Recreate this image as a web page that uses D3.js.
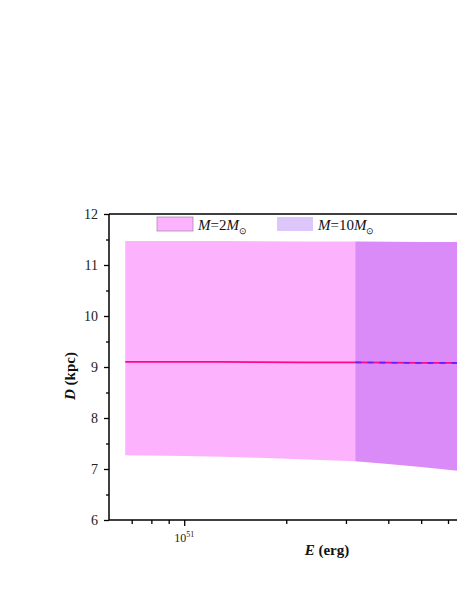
<!DOCTYPE html>
<html><head><meta charset="utf-8">
<script src="https://cdn.jsdelivr.net/npm/d3@7"></script>
<style>body{margin:0;background:#fff}svg{display:block}svg text{font-family:'Liberation Serif','Times New Roman',serif !important}</style>
</head><body>
<script>
// ---- data ----
const energyM2 = [0.67e51, 0.8e51, 1.0e51, 1.3e51, 1.66e51, 2.2e51, 3.2e51, 4.0e51, 5.0e51, 6.3e51, 7.0e51];
const lowerM2  = [7.27, 7.265, 7.255, 7.24, 7.22, 7.19, 7.15, 7.10, 7.04, 6.97, 6.93];
const upperM2  = [11.47, 11.47, 11.47, 11.47, 11.465, 11.46, 11.46, 11.455, 11.45, 11.45, 11.45];
const centerM2 = [9.10, 9.10, 9.10, 9.10, 9.095, 9.09, 9.09, 9.085, 9.08, 9.08, 9.08];
const energyM10 = [3.2e51, 4.0e51, 5.0e51, 6.3e51, 7.0e51];
const lowerM10  = [7.15, 7.10, 7.04, 6.97, 6.93];
const upperM10  = [11.46, 11.455, 11.45, 11.45, 11.45];
const centerM10 = [9.09, 9.085, 9.08, 9.08, 9.08];
const yTicks = [6, 7, 8, 9, 10, 11, 12];
const legendLabels = [{pre:"M", mid:"=2", post:"M"}, {pre:"M", mid:"=10", post:"M"}];

(function () {
const W = 457, H = 591;
const mLeft = 109, mBottom = 520, mTop = 214;
const svg = d3.select("body").append("svg").attr("width", W).attr("height", H)
  .style("font-family", "'Liberation Serif', 'Times New Roman', serif");

const x = d3.scaleLog().domain([0.6e51, 7e51]).range([mLeft, mLeft + 339 * Math.log10(7 / 0.6)]);
const y = d3.scaleLinear().domain([6, 12]).range([mBottom, mTop]);

svg.append("clipPath").attr("id", "clip").append("rect")
  .attr("x", mLeft).attr("y", mTop).attr("width", W - mLeft).attr("height", mBottom - mTop);
const plot = svg.append("g").attr("clip-path", "url(#clip)");

const band = (E, lo, hi) => d3.area().x((d, i) => x(E[i])).y0((d, i) => y(lo[i])).y1((d, i) => y(hi[i]))(E);
const line = (E, c) => d3.line().x((d, i) => x(E[i])).y((d, i) => y(c[i]))(E);

const pink = "#fdb2fd";
const purple = "rgb(100,0,232)", purpleOp = 0.22;

plot.append("path").attr("d", band(energyM2, lowerM2, upperM2)).attr("fill", pink);
plot.append("path").attr("d", band(energyM10, lowerM10, upperM10)).attr("fill", purple).attr("fill-opacity", purpleOp);
plot.append("path").attr("d", line(energyM2, centerM2)).attr("fill", "none").attr("stroke", "#ff0a84").attr("stroke-width", 1.6);
plot.append("path").attr("d", line(energyM10, centerM10)).attr("fill", "none").attr("stroke", "#6a1aff")
  .attr("stroke-width", 1.6).attr("stroke-dasharray", "6,6");

// axes
const yAxis = d3.axisLeft(y).tickValues(yTicks).tickSize(5).tickPadding(6).tickFormat(d3.format("d"));
const gy = svg.append("g").attr("transform", `translate(${mLeft},0)`).call(yAxis);
gy.selectAll("text").attr("font-size", 14).attr("fill", "#222");
gy.select(".domain").remove();
svg.append("g").attr("transform", `translate(${mLeft},0)`)
  .call(d3.axisLeft(y).tickValues(d3.range(6.5, 12, 1)).tickSize(3).tickFormat(""))
  .select(".domain").remove();

const majorX = [1e51];
const minorX = [0.7e51, 0.8e51, 0.9e51, 2e51, 3e51, 4e51, 5e51, 6e51, 7e51];
const gx = svg.append("g").attr("transform", `translate(0,${mBottom})`)
  .call(d3.axisBottom(x).tickValues(majorX).tickSize(6).tickFormat(""));
gx.select(".domain").remove();
svg.append("g").attr("transform", `translate(0,${mBottom})`)
  .call(d3.axisBottom(x).tickValues(minorX).tickSize(4).tickFormat(""))
  .select(".domain").remove();
svg.selectAll(".tick line").attr("stroke", "#000").attr("stroke-width", 1.3);

majorX.forEach(v => {
  const t = svg.append("text").attr("x", x(v)).attr("y", 542).attr("text-anchor", "middle")
    .attr("font-size", 12).attr("fill", "#222");
  t.append("tspan").text("10");
  t.append("tspan").attr("dy", -5).attr("font-size", 8).text(Math.round(Math.log10(v)));
});

// spines
svg.append("line").attr("x1", mLeft).attr("x2", mLeft).attr("y1", mTop).attr("y2", mBottom).attr("stroke", "#000").attr("stroke-width", 1.5);
svg.append("line").attr("x1", mLeft).attr("x2", W).attr("y1", mBottom).attr("y2", mBottom).attr("stroke", "#000").attr("stroke-width", 1.5);
svg.append("line").attr("x1", mLeft).attr("x2", W).attr("y1", mTop).attr("y2", mTop).attr("stroke", "#000").attr("stroke-width", 1.5);

// legend
const legX = [157, 277];
legendLabels.forEach((L, i) => {
  const g = svg.append("g");
  const r = g.append("rect").attr("x", legX[i]).attr("y", 217).attr("width", 36).attr("height", 14);
  if (i === 0) r.attr("fill", pink).attr("stroke", "#a98bb5").attr("stroke-width", 0.8);
  else r.attr("fill", purple).attr("fill-opacity", purpleOp);
  const t = g.append("text").attr("x", legX[i] + 41).attr("y", 230).attr("font-size", 15).attr("fill", "#111");
  t.append("tspan").attr("font-style", "italic").text(L.pre);
  t.append("tspan").text(L.mid);
  t.append("tspan").attr("font-style", "italic").text(L.post);
  t.append("tspan").attr("dy", 4).attr("font-size", 9).text("\u2299");
});

// axis titles
const yl = svg.append("text").attr("transform", "translate(75,376) rotate(-90)").attr("text-anchor", "middle")
  .attr("font-size", 15).attr("font-weight", "bold").attr("fill", "#111");
yl.append("tspan").attr("font-style", "italic").text("D");
yl.append("tspan").text(" (kpc)");
const xl = svg.append("text").attr("x", 327).attr("y", 555).attr("text-anchor", "middle")
  .attr("font-size", 15).attr("font-weight", "bold").attr("fill", "#111");
xl.append("tspan").attr("font-style", "italic").text("E");
xl.append("tspan").text(" (erg)");
})();
</script>
</body></html>
